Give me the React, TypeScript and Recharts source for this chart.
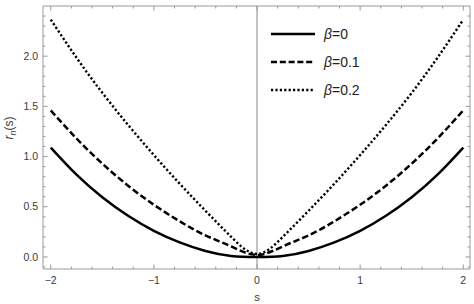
import { LineChart, Line, XAxis, YAxis, ReferenceLine } from 'recharts';

const sValues = [-2, -1.75, -1.5, -1.25, -1, -0.75, -0.5, -0.25, 0, 0.25, 0.5, 0.75, 1, 1.25, 1.5, 1.75, 2];
const beta0 = [1.09, 0.82, 0.595, 0.41, 0.26, 0.145, 0.06, 0.01, 0, 0.01, 0.06, 0.145, 0.26, 0.41, 0.595, 0.82, 1.09];
const beta01 = [1.46, 1.18, 0.93, 0.71, 0.52, 0.355, 0.215, 0.105, 0.02, 0.105, 0.215, 0.355, 0.52, 0.71, 0.93, 1.18, 1.46];
const beta02 = [2.365, 1.985, 1.635, 1.315, 1.015, 0.73, 0.46, 0.2, 0.03, 0.2, 0.46, 0.73, 1.015, 1.315, 1.635, 1.985, 2.365];

const seriesNames = ['β=0', 'β=0.1', 'β=0.2'];

const xTicks = [-2, -1.8, -1.6, -1.4, -1.2, -1, -0.8, -0.6, -0.4, -0.2, 0, 0.2, 0.4, 0.6, 0.8, 1, 1.2, 1.4, 1.6, 1.8, 2];
const yTicks = [-0.1, 0, 0.1, 0.2, 0.3, 0.4, 0.5, 0.6, 0.7, 0.8, 0.9, 1, 1.1, 1.2, 1.3, 1.4, 1.5, 1.6, 1.7, 1.8, 1.9, 2, 2.1, 2.2, 2.3, 2.4];

const data = sValues.map((s, i) => ({ s, b0: beta0[i], b1: beta01[i], b2: beta02[i] }));

const frame = '#999';
const labelColor = '#3a3a3a';
const font = '"Liberation Sans", Arial, sans-serif';

const isMajorX = (v: number) => Math.abs(v - Math.round(v)) < 1e-9;
const isMajorY = (v: number) => Math.abs(v * 2 - Math.round(v * 2)) < 1e-9;
const fmtX = (v: number) => (v < 0 ? '\u2212' + Math.abs(v) : String(Math.round(v)));

const BottomTick = (props: any) => {
  const { x, y, payload } = props;
  const major = isMajorX(payload.value);
  return (
    <g>
      <line x1={x} x2={x} y1={y} y2={y - (major ? 4.5 : 2.5)} stroke={frame} />
      {major && (
        <text x={x} y={y + 15} textAnchor="middle" fontSize={10.5} fill={labelColor} fontFamily={font}>
          {fmtX(payload.value)}
        </text>
      )}
    </g>
  );
};

const TopTick = (props: any) => {
  const { x, y, payload } = props;
  const major = isMajorX(payload.value);
  return <line x1={x} x2={x} y1={y} y2={y + (major ? 4.5 : 2.5)} stroke={frame} />;
};

const LeftTick = (props: any) => {
  const { x, y, payload } = props;
  const major = isMajorY(payload.value);
  return (
    <g>
      <line x1={x} x2={x + (major ? 4.5 : 2.5)} y1={y} y2={y} stroke={frame} />
      {major && (
        <text x={x - 5} y={y + 3.7} textAnchor="end" fontSize={10.5} fill={labelColor} fontFamily={font}>
          {payload.value.toFixed(1)}
        </text>
      )}
    </g>
  );
};

const RightTick = (props: any) => {
  const { x, y, payload } = props;
  const major = isMajorY(payload.value);
  return <line x1={x} x2={x - (major ? 4.5 : 2.5)} y1={y} y2={y} stroke={frame} />;
};

const lineStyles = [
  { key: 'b0', dash: undefined, legendDash: undefined, width: 2.5 },
  { key: 'b1', dash: '6.5 3', legendDash: '6 2.8', width: 2.5 },
  { key: 'b2', dash: '2.2 2.2', legendDash: '2.2 2.2', width: 2.4 },
];

export default function App() {
  return (
    <div style={{ position: 'absolute', left: 0, top: 0, width: 474, height: 304, background: '#fff' }}>
      <LineChart width={474} height={304} data={data} margin={{ top: 5, right: 3, left: 0, bottom: 0 }}>
        <XAxis
          dataKey="s"
          type="number"
          domain={[-2.075, 2.065]}
          allowDataOverflow
          ticks={xTicks}
          interval={0}
          tick={<BottomTick />}
          tickLine={false}
          tickSize={0}
          tickMargin={0}
          height={35}
          stroke={frame}
          label={{
            content: () => (
              <text x={257} y={301} textAnchor="middle" fontSize={11.5} fill={labelColor} fontFamily={font}>
                s
              </text>
            ),
          }}
        />
        <XAxis
          xAxisId="top"
          orientation="top"
          dataKey="s"
          type="number"
          domain={[-2.075, 2.065]}
          allowDataOverflow
          ticks={xTicks}
          interval={0}
          tick={<TopTick />}
          tickLine={false}
          tickSize={0}
          tickMargin={0}
          height={1}
          stroke={frame}
        />
        <YAxis
          type="number"
          domain={[-0.12, 2.5]}
          allowDataOverflow
          ticks={yTicks}
          interval={0}
          tick={<LeftTick />}
          tickLine={false}
          tickSize={0}
          tickMargin={0}
          width={43}
          stroke={frame}
          label={{
            content: () => (
              <text
                x={13}
                y={128}
                transform="rotate(-90 13 128)"
                textAnchor="middle"
                fontSize={12}
                fill={labelColor}
                fontFamily={font}
              >
                <tspan fontStyle="italic">r</tspan>
                <tspan fontStyle="italic" fontSize={9} dy={2.5}>n</tspan>
                <tspan dy={-2.5}>(s)</tspan>
              </text>
            ),
          }}
        />
        <YAxis
          yAxisId="right"
          orientation="right"
          type="number"
          domain={[-0.12, 2.5]}
          allowDataOverflow
          ticks={yTicks}
          interval={0}
          tick={<RightTick />}
          tickLine={false}
          tickSize={0}
          tickMargin={0}
          width={1}
          stroke={frame}
        />
        <ReferenceLine x={0} stroke="#888" strokeWidth={1} />
        {lineStyles.map((ls) => (
          <Line
            key={ls.key}
            type="natural"
            dataKey={ls.key}
            stroke="#000"
            strokeWidth={ls.width}
            strokeDasharray={ls.dash}
            dot={false}
            isAnimationActive={false}
          />
        ))}
      </LineChart>
      <div style={{ position: 'absolute', left: 271, top: 20, fontFamily: font, color: '#222' }}>
        {seriesNames.map((name, i) => (
          <div key={name} style={{ display: 'flex', alignItems: 'center', height: 28 }}>
            <svg width={44} height={6} style={{ marginRight: 9 }}>
              <line
                x1={0}
                x2={44}
                y1={3}
                y2={3}
                stroke="#000"
                strokeWidth={lineStyles[i].width}
                strokeDasharray={lineStyles[i].legendDash}
              />
            </svg>
            <span style={{ fontSize: 14 }}>
              <i>β</i>
              {name.slice(1)}
            </span>
          </div>
        ))}
      </div>
    </div>
  );
}
